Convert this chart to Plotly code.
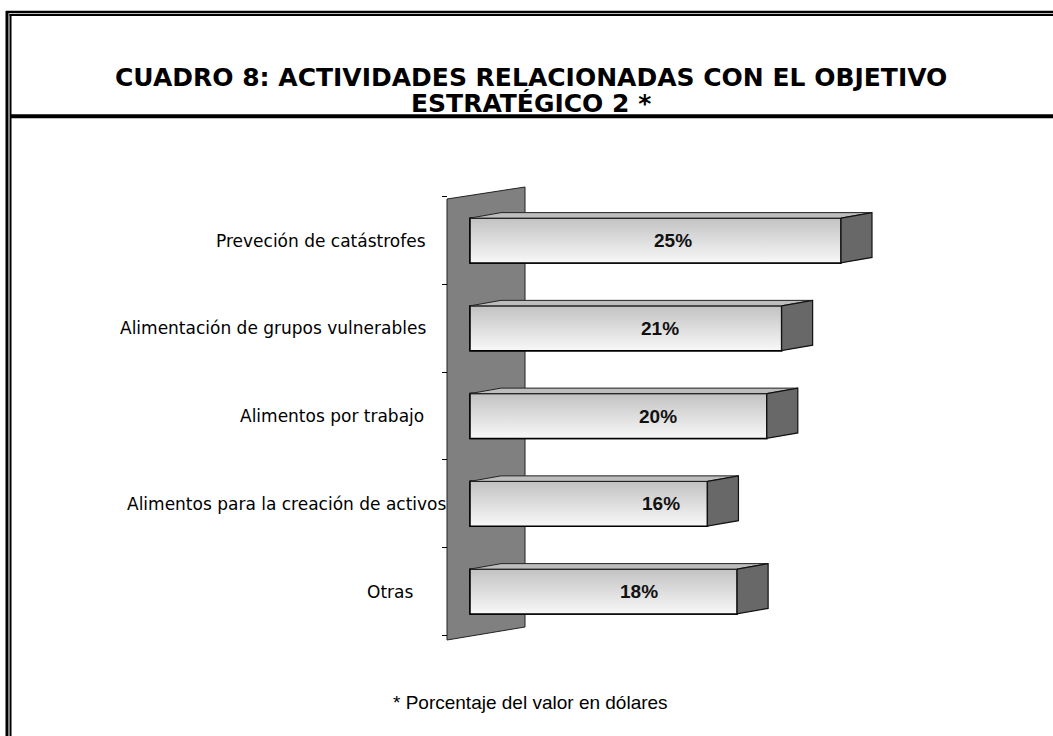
import plotly.graph_objects as go

# ---------------- data ----------------
categories = [
    "Preveción de catástrofes",
    "Alimentación de grupos vulnerables",
    "Alimentos por trabajo",
    "Alimentos para la creación de activos",
    "Otras",
]
values = [25, 21, 20, 16, 18]
value_labels = ["25%", "21%", "20%", "16%", "18%"]

title_line1 = "CUADRO 8: ACTIVIDADES RELACIONADAS CON EL OBJETIVO"
title_line2 = "ESTRATÉGICO 2 *"
footnote = "* Porcentaje del valor en dólares"

# ---------------- style / geometry ----------------
W, H = 1053, 736
X0, SX = 470.0, 14.84      # pixel of value 0, pixels per percent
Y0, SY = 240.5, 87.75      # pixel of first category centre, pixels per category


def vx(p):   # pixel -> x data
    return (p - X0) / SX


def vy(p):   # pixel -> y data
    return (p - Y0) / SY


def px(p):   # pixel -> paper x
    return p / W


def py(p):   # pixel -> paper y
    return 1 - p / H


BAR_W = 0.51
DX = 31 / SX
DY = 5.5 / SY
label_xshift = [0, 0, -2, 21, -13]
pct_label_x = [13.7, 12.8, 12.7, 12.9, 11.4]

idx = list(range(len(categories)))

fig = go.Figure()

# front faces (bars)
fig.add_trace(go.Bar(
    x=values, y=idx, orientation="h", width=BAR_W, base=0,
    marker=dict(color="#e4e4e4", line=dict(color="black", width=1.5)),
    hoverinfo="skip", showlegend=False,
))

for i, v in zip(idx, values):
    top = i - BAR_W / 2
    bot = i + BAR_W / 2
    # gradient overlay of the front face (grey at the top, near white below)
    fig.add_trace(go.Scatter(
        x=[0, v, v, 0, 0], y=[top, top, bot, bot, top],
        fill="toself", mode="lines",
        line=dict(color="black", width=1.5),
        fillgradient=dict(type="vertical", start=top, stop=bot,
                          colorscale=[[0, "#c2c2c2"], [1, "#f8f8f8"]]),
        hoverinfo="skip", showlegend=False,
    ))
    # top face
    fig.add_trace(go.Scatter(
        x=[0, v, v + DX, DX, 0], y=[top, top, top - DY, top - DY, top],
        fill="toself", mode="lines", fillcolor="#bdbdbd",
        line=dict(color="#222222", width=1),
        hoverinfo="skip", showlegend=False,
    ))
    # side face
    fig.add_trace(go.Scatter(
        x=[v, v + DX, v + DX, v, v], y=[top, top - DY, bot - DY, bot, top],
        fill="toself", mode="lines", fillcolor="#686868",
        line=dict(color="#111111", width=1.2),
        hoverinfo="skip", showlegend=False,
    ))

shapes = []
# wall
wall = "M {a},{b} L {c},{d} L {c},{e} L {a},{f} Z".format(
    a=vx(447), b=vy(199), c=vx(525), d=vy(187), e=vy(627), f=vy(640))
shapes.append(dict(type="path", path=wall, xref="x", yref="y", layer="below",
                   fillcolor="#808080", line=dict(color="#222222", width=1)))

# frame lines
shapes += [
    dict(type="line", xref="paper", yref="paper", x0=px(7), x1=px(7),
         y0=py(11), y1=py(760), line=dict(color="black", width=3)),
    dict(type="line", xref="paper", yref="paper", x0=px(10.5), x1=px(10.5),
         y0=py(14), y1=py(760), line=dict(color="black", width=2)),
    dict(type="line", xref="paper", yref="paper", x0=px(6), x1=px(1080),
         y0=py(12), y1=py(12), line=dict(color="black", width=2.5)),
    dict(type="line", xref="paper", yref="paper", x0=px(9.5), x1=px(1080),
         y0=py(15), y1=py(15), line=dict(color="black", width=2)),
    dict(type="line", xref="paper", yref="paper", x0=px(10), x1=px(1080),
         y0=py(116.3), y1=py(116.3), line=dict(color="black", width=4)),
]

annotations = []
for i, (c, s) in enumerate(zip(categories, label_xshift)):
    annotations.append(dict(
        x=vx(428), y=i, xref="x", yref="y", text=c, showarrow=False,
        xanchor="right", yanchor="middle", xshift=s,
        font=dict(family="DejaVu Sans", size=17, color="black")))
for i, (t, xp) in enumerate(zip(value_labels, pct_label_x)):
    annotations.append(dict(
        x=xp, y=i, xref="x", yref="y", text="<b>%s</b>" % t, showarrow=False,
        xanchor="center", yanchor="middle",
        font=dict(family="Liberation Sans, Arial", size=19, color="#111111")))

annotations += [
    dict(x=px(531), y=py(78), xref="paper", yref="paper", text="<b>%s</b>" % title_line1,
         showarrow=False, xanchor="center", yanchor="middle",
         font=dict(family="DejaVu Sans", size=25, color="black")),
    dict(x=px(531), y=py(104), xref="paper", yref="paper", text="<b>%s</b>" % title_line2,
         showarrow=False, xanchor="center", yanchor="middle",
         font=dict(family="DejaVu Sans", size=25, color="black")),
    dict(x=px(530), y=py(702), xref="paper", yref="paper", text=footnote,
         showarrow=False, xanchor="center", yanchor="middle",
         font=dict(family="Liberation Sans, Arial", size=19, color="black")),
]

fig.update_layout(
    width=W, height=H,
    margin=dict(l=0, r=0, t=0, b=0),
    paper_bgcolor="white", plot_bgcolor="white",
    showlegend=False,
    xaxis=dict(range=[vx(0), vx(W)], visible=False, fixedrange=True),
    yaxis=dict(range=[vy(H), vy(0)], showgrid=False, zeroline=False,
               showline=False, showticklabels=False,
               tickmode="array", tickvals=[k - 0.5 for k in range(len(categories) + 1)],
               ticks="outside", ticklen=5, tickcolor="black", tickwidth=1,
               anchor="free", position=px(447), fixedrange=True),
    shapes=shapes,
    annotations=annotations,
    barmode="overlay",
)

fig.write_html("out.html", config={"displayModeBar": False},
               post_script="document.body.style.margin='0px';")
